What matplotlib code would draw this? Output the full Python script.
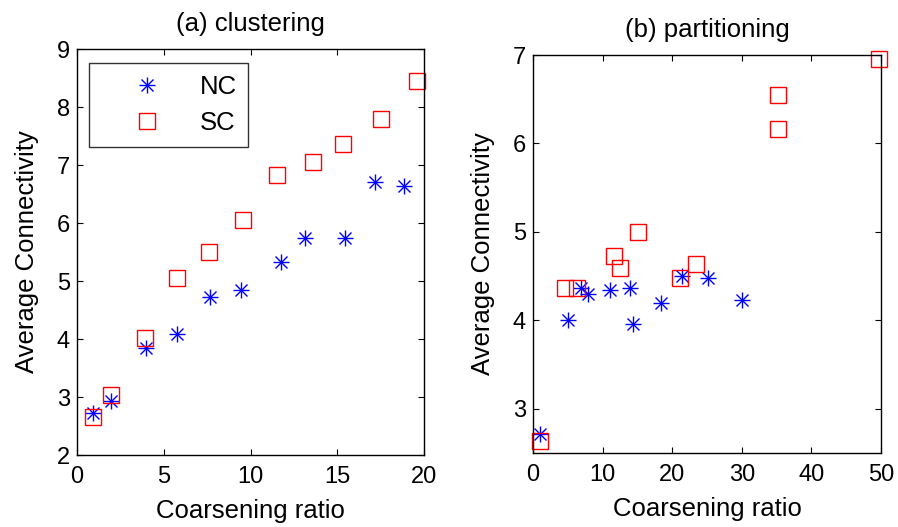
import matplotlib
matplotlib.use('Agg')
import matplotlib.pyplot as plt
from matplotlib.legend_handler import HandlerTuple

plt.rcParams['font.family'] = ['Liberation Sans', 'DejaVu Sans']

# (a) clustering
a_nc_x = [0.92, 1.98, 3.95, 5.76, 7.64, 9.46, 11.77, 13.17, 15.45, 17.2, 18.83]
a_nc_y = [2.72, 2.93, 3.84, 4.08, 4.73, 4.84, 5.32, 5.74, 5.74, 6.70, 6.64]
a_sc_x = [0.92, 1.98, 3.93, 5.76, 7.62, 9.58, 11.53, 13.61, 15.36, 17.52, 19.62]
a_sc_y = [2.66, 3.04, 4.01, 5.05, 5.50, 6.05, 6.82, 7.06, 7.37, 7.79, 8.44]

# (b) partitioning
b_nc_x = [0.96, 5.04, 6.96, 7.92, 11.04, 13.92, 14.3, 18.33, 21.45, 25.19, 30.09]
b_nc_y = [2.71, 4.00, 4.37, 4.30, 4.34, 4.37, 3.96, 4.20, 4.50, 4.48, 4.23]
b_sc_x = [0.96, 4.6, 6.38, 11.6, 12.43, 15.07, 21.11, 23.42, 35.27, 35.27, 49.67]
b_sc_y = [2.64, 4.37, 4.37, 4.73, 4.59, 5.00, 4.48, 4.64, 6.16, 6.55, 6.96]

fig = plt.figure(figsize=(8.98, 5.27), dpi=100)
W, H = 898, 527
ax1 = fig.add_axes([77 / W, 1 - 455 / H, 347 / W, 406 / H])
ax2 = fig.add_axes([533 / W, 1 - 453 / H, 348 / W, 398 / H])


def draw(ax, nx, ny, sx, sy):
    # matlab-style asterisk = plus + cross overlaid
    p, = ax.plot(nx, ny, '+', color='blue', ms=12, mew=1.0, clip_on=False)
    x, = ax.plot(nx, ny, 'x', color='blue', ms=8, mew=1.0, clip_on=False)
    s, = ax.plot(sx, sy, 's', mfc='none', mec='red', ms=11.5, mew=1.0, clip_on=False)
    for sp in ax.spines.values():
        sp.set_linewidth(1.0)
    ax.tick_params(direction='in', labelsize=17, top=True, right=True, length=4)
    ax.tick_params(axis='x', pad=8)
    ax.tick_params(axis='y', pad=5)
    ax.set_xlabel('Coarsening ratio', fontsize=18.5, labelpad=8)
    ax.set_ylabel('Average Connectivity', fontsize=18.5, labelpad=12.5)
    return (p, x), s


nc1, sc1 = draw(ax1, a_nc_x, a_nc_y, a_sc_x, a_sc_y)
ax1.set_xlim(0, 20)
ax1.set_ylim(2, 9)
ax1.set_xticks([0, 5, 10, 15, 20])
ax1.set_title('(a) clustering', fontsize=18.5, pad=13)
leg = ax1.legend([nc1, sc1], ['NC', 'SC'], handler_map={tuple: HandlerTuple(ndivide=1)},
                 loc='upper left', bbox_to_anchor=(0.0346, 0.9655), borderaxespad=0,
                 fontsize=18.5, frameon=True, fancybox=False, edgecolor='black',
                 handlelength=3.6, handletextpad=0.25, borderpad=0.45, labelspacing=0.5)
leg.get_frame().set_linewidth(1.0)

draw(ax2, b_nc_x, b_nc_y, b_sc_x, b_sc_y)
ax2.set_xlim(0, 50)
ax2.set_ylim(2.5, 7)
ax2.set_xticks([0, 10, 20, 30, 40, 50])
ax2.set_yticks([3, 4, 5, 6, 7])
ax2.set_title('(b) partitioning', fontsize=18.5, pad=13)

fig.savefig('out.png', dpi=100)
